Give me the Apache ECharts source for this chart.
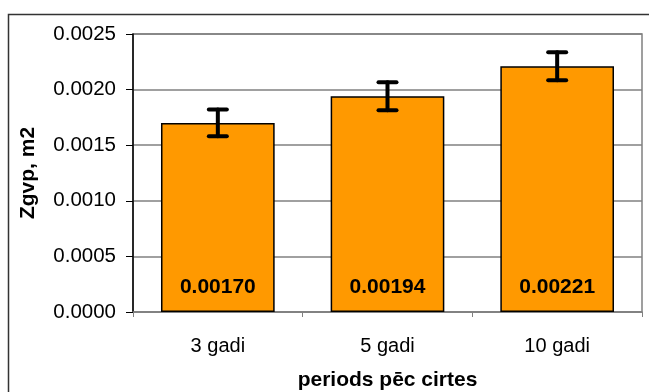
<!DOCTYPE html>
<html>
<head>
<meta charset="utf-8">
<script src="https://cdn.jsdelivr.net/npm/echarts@6/dist/echarts.min.js"></script>
<style>
  html, body { margin: 0; padding: 0; background: #fff; }
  #main { width: 649px; height: 392px; }
</style>
</head>
<body>
<div id="main"></div>
<script>
const categories = ['3 gadi', '5 gadi', '10 gadi'];
const values = [0.00170, 0.00194, 0.00221];
const errors = [0.00012, 0.000125, 0.000126];
const valueLabels = ['0.00170', '0.00194', '0.00221'];

const chartDom = document.getElementById('main');
const myChart = echarts.init(chartDom);

const errorData = values.map((v, i) => [i, v - errors[i], v + errors[i]]);

const option = {
    animation: false,
    textStyle: { fontFamily: 'Liberation Sans, Arial, sans-serif' },
    graphic: [
        {
            type: 'rect',
            shape: { x: 8.5, y: 14.5, width: 700, height: 400 },
            style: { fill: 'none', stroke: '#333', lineWidth: 1.5 },
            z: -1
        }
    ],
    grid: {
        left: 133,
        right: 7,
        top: 34,
        bottom: 80,
        containLabel: false,
        outerBoundsMode: 'none',
        show: true,
        borderColor: '#808080',
        borderWidth: 1.5
    },
    xAxis: {
        type: 'category',
        data: categories,
        name: 'periods pēc cirtes',
        nameLocation: 'middle',
        nameGap: 58,
        nameTextStyle: { fontSize: 21, fontWeight: 'bold', color: '#000' },
        axisLine: { lineStyle: { color: '#808080', width: 1.5 } },
        axisTick: { show: true, alignWithLabel: false, length: 5, lineStyle: { color: '#808080' } },
        axisLabel: { fontSize: 20, color: '#000', margin: 24 }
    },
    yAxis: {
        type: 'value',
        min: 0,
        max: 0.0025,
        interval: 0.0005,
        name: 'Zgvp, m2',
        nameLocation: 'middle',
        nameGap: 94,
        nameTextStyle: { fontSize: 21, fontWeight: 'bold', color: '#000' },
        axisLine: { show: true, lineStyle: { color: '#000', width: 1.5 } },
        axisTick: { show: true, length: 7, lineStyle: { color: '#000' } },
        axisLabel: {
            fontSize: 20.5,
            color: '#000',
            margin: 17,
            formatter: v => v.toFixed(4)
        },
        splitLine: { lineStyle: { color: '#808080', width: 1.5 } }
    },
    series: [
        {
            type: 'bar',
            data: values,
            barCategoryGap: '33%',
            itemStyle: { color: '#FF9900', borderColor: '#000', borderWidth: 1.5 },
            label: {
                show: true,
                position: 'insideBottom',
                distance: 14,
                fontSize: 21,
                fontWeight: 'bold',
                color: '#000',
                formatter: p => valueLabels[p.dataIndex]
            }
        },
        {
            type: 'custom',
            data: errorData,
            z: 10,
            renderItem: function (params, api) {
                const x = api.coord([api.value(0), api.value(1)])[0];
                const lo = api.coord([api.value(0), api.value(1)])[1];
                const hi = api.coord([api.value(0), api.value(2)])[1];
                const cap = 9;
                const style = { stroke: '#000', lineWidth: 4, lineCap: 'round' };
                return {
                    type: 'group',
                    children: [
                        { type: 'line', shape: { x1: x, y1: lo, x2: x, y2: hi }, style: style },
                        { type: 'line', shape: { x1: x - cap, y1: lo, x2: x + cap, y2: lo }, style: style },
                        { type: 'line', shape: { x1: x - cap, y1: hi, x2: x + cap, y2: hi }, style: style }
                    ]
                };
            }
        }
    ]
};

myChart.setOption(option);
</script>
</body>
</html>
